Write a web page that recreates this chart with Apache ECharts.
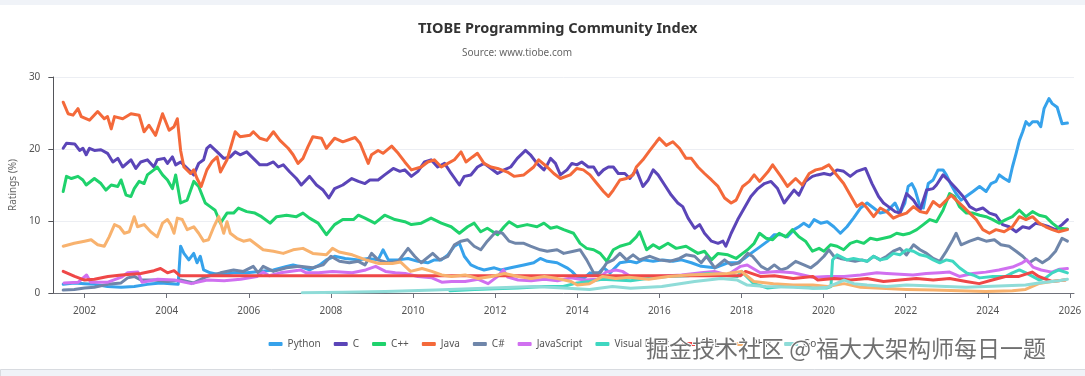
<!DOCTYPE html>
<html>
<head>
<meta charset="utf-8">
<script src="https://cdn.jsdelivr.net/npm/echarts@6/dist/echarts.min.js"></script>
<style>
  html, body { margin: 0; padding: 0; background: #fff; }
  #main { width: 1085px; height: 376px; }
</style>
</head>
<body>
<div id="main"></div>
<script>
// TIOBE ratings (%), points are [year, rating]
var names = ['Python', 'C', 'C++', 'Java', 'C#', 'JavaScript', 'Visual Basic', 'SQL', 'PHP', 'Go'];
var colors = ['#36a2eb', '#5b45b8', '#1fd26c', '#f4693a', '#6f86aa', '#d070f0', '#3fd7c1', '#ef4747', '#f8b26e', '#8fdcd8'];
var yearTicks = [2002, 2004, 2006, 2008, 2010, 2012, 2014, 2016, 2018, 2020, 2022, 2024, 2026];

var python = [[2001.48,1.2],[2001.75,1.4],[2002.0,1.3],[2002.24,1.2],[2002.56,0.9],[2002.89,0.8],[2003.21,0.9],[2003.53,1.2],[2003.85,1.4],[2004.1,1.3],[2004.28,1.2],[2004.34,6.5],[2004.42,5.5],[2004.54,4.6],[2004.66,5.5],[2004.74,4.2],[2004.82,5.1],[2004.9,3.2],[2005.06,2.8],[2005.31,2.5],[2005.63,2.8],[2005.95,2.8],[2006.27,3.0],[2006.6,3.2],[2006.92,3.7],[2007.08,3.9],[2007.24,3.7],[2007.48,3.2],[2007.73,3.9],[2007.89,4.6],[2008.09,5.1],
  [2008.35,4.8],[2008.67,4.6],[2008.91,4.8],[2009.15,4.6],[2009.27,6.0],[2009.4,4.6],[2009.64,4.6],[2009.88,4.8],[2010.12,4.4],[2010.36,4.2],[2010.52,4.6],[2010.69,4.6],[2010.85,5.3],[2011.01,6.5],[2011.13,6.9],[2011.25,5.1],[2011.41,3.9],[2011.57,3.5],[2011.73,3.2],[2011.98,3.5],[2012.14,3.2],[2012.38,3.5],[2012.7,3.9],[2012.94,4.2],[2013.1,4.8],[2013.27,4.4],[2013.51,4.2],[2013.75,3.5],[2013.87,3.0],[2013.99,2.3],[2014.15,2.0],[2014.31,2.8],[2014.48,2.5],[2014.64,3.5],[2014.8,2.8],[2015.04,4.2],[2015.28,4.4],[2015.44,4.2],[2015.6,4.6],[2015.85,4.4],[2016.09,4.6],[2016.33,4.4],
  [2016.54,4.6],[2016.78,4.2],[2017.02,3.7],[2017.35,3.5],[2017.67,4.2],[2017.91,4.2],[2018.07,4.8],[2018.23,5.5],[2018.4,6.2],[2018.64,7.2],[2018.8,8.1],[2018.96,8.1],[2019.12,7.8],[2019.28,8.8],[2019.4,9.2],[2019.52,9.7],[2019.65,9.2],[2019.77,10.2],[2019.93,9.7],[2020.09,9.9],[2020.25,9.2],[2020.41,8.3],[2020.57,9.2],[2020.73,10.4],[2020.9,11.8],[2021.06,12.5],[2021.22,11.8],[2021.38,11.1],[2021.54,11.3],[2021.74,12.5],[2021.86,11.1],[2021.98,12.5],[2022.06,14.8],[2022.15,15.2],[2022.23,14.3],[2022.35,12.0],[2022.43,11.8],[2022.55,15.2],[2022.67,15.7],[2022.79,17.1],[2022.91,17.1],[2022.99,16.4],[2023.11,15.0],[2023.23,13.8],[2023.35,12.9],[2023.47,13.4],[2023.64,14.1],[2023.8,14.8],[2023.96,14.1],[2024.08,15.2],[2024.2,15.5],[2024.28,16.4],[2024.4,15.9],[2024.52,15.5],[2024.6,17.5],[2024.69,19.4],[2024.77,21.2],[2024.85,22.4],[2024.93,23.8],[2025.01,23.3],[2025.09,23.8],[2025.21,23.8],[2025.29,23.1],[2025.37,25.6],[2025.49,27.0],[2025.57,26.3],[2025.69,25.8],[2025.81,23.5],[2025.94,23.6]];

var langC = [[2001.48,20.1],[2001.56,20.8],[2001.76,20.7],[2001.88,19.8],[2001.96,20.1],[2002.04,19.2],[2002.12,20.1],[2002.24,19.8],[2002.4,19.9],[2002.56,19.4],[2002.69,18.2],[2002.81,18.7],[2002.93,17.5],[2003.13,18.5],[2003.25,17.3],[2003.37,18.2],[2003.53,18.5],[2003.69,17.5],[2003.77,18.5],[2003.94,18.7],[2004.02,18.0],[2004.14,18.9],[2004.22,17.8],[2004.34,18.2],[2004.5,17.3],[2004.66,16.4],[2004.78,18.0],[2004.9,18.5],[2004.98,20.1],[2005.06,20.5],[2005.23,19.6],[2005.39,18.7],[2005.55,18.9],[2005.67,19.6],[2005.79,19.2],[2005.95,19.6],[2006.11,18.7],[2006.27,17.8],[2006.44,17.8],[2006.6,18.2],[2006.72,17.5],[2006.84,17.8],[2007.0,16.8],[2007.16,15.9],[2007.28,15.0],[2007.48,16.2],[2007.65,15.0],[2007.81,14.3],[2007.95,13.2],[2008.09,14.5],[2008.29,15.0],
  [2008.51,15.9],[2008.67,15.5],[2008.83,15.2],[2008.95,15.7],[2009.15,15.7],[2009.31,16.4],[2009.52,17.3],[2009.68,16.9],[2009.8,17.1],[2009.96,16.2],[2010.12,16.9],[2010.28,18.2],[2010.44,18.5],[2010.6,17.5],[2010.77,18.0],[2010.93,16.6],[2011.13,15.0],[2011.25,16.2],[2011.41,16.4],[2011.57,17.5],[2011.73,18.0],[2011.9,17.3],[2012.06,16.6],[2012.22,17.1],[2012.38,17.5],[2012.54,18.7],[2012.74,19.8],[2012.86,19.2],[2013.02,18.0],[2013.19,17.1],[2013.27,17.8],[2013.35,18.7],[2013.47,18.0],[2013.59,16.4],[2013.75,17.1],[2013.87,18.0],[2013.99,17.8],[2014.11,18.2],[2014.27,17.5],[2014.4,17.5],[2014.52,16.4],[2014.64,17.1],[2014.76,17.5],[2014.88,17.5],[2015.0,16.6],[2015.16,16.6],[2015.28,15.9],[2015.44,17.1],[2015.6,14.8],[2015.73,15.7],[2015.85,17.1],[2015.97,16.4],[2016.13,15.0],[2016.29,13.6],[2016.45,12.5],
  [2016.57,12.0],[2016.7,10.4],[2016.86,9.0],[2016.98,9.5],[2017.1,8.3],[2017.27,7.2],[2017.43,6.9],[2017.55,7.2],[2017.62,6.5],[2017.75,8.3],[2017.91,10.2],[2018.07,11.8],[2018.23,13.4],[2018.4,14.5],[2018.56,15.2],[2018.72,15.5],[2018.88,14.5],[2019.04,12.5],[2019.16,13.4],[2019.28,14.3],[2019.4,13.6],[2019.56,15.5],[2019.73,16.2],[2019.85,16.4],[2020.01,16.6],[2020.17,16.4],[2020.33,17.1],[2020.49,16.9],[2020.65,16.2],[2020.81,16.9],[2021.02,17.3],[2021.18,15.2],[2021.34,13.4],[2021.46,12.5],[2021.58,12.0],[2021.74,11.3],[2021.86,11.1],[2022.02,13.8],[2022.19,12.9],[2022.35,11.5],[2022.51,14.3],[2022.67,14.5],[2022.75,15.0],[2022.91,16.4],[2023.07,15.5],[2023.23,14.5],[2023.4,13.4],[2023.56,12.0],[2023.72,11.5],[2023.88,11.8],[2024.04,11.1],[2024.2,10.8],[2024.36,9.5],[2024.52,9.2],[2024.69,8.5],[2024.85,9.2],[2025.01,9.0],[2025.17,9.7],[2025.33,9.5],[2025.49,9.2],[2025.65,8.8],[2025.81,9.5],[2025.94,10.2]];

var cpp = [[2001.48,14.1],[2001.56,16.2],[2001.68,15.9],[2001.84,16.2],[2001.96,15.7],[2002.04,15.0],[2002.24,15.9],[2002.4,15.2],[2002.52,14.3],[2002.65,15.0],[2002.81,14.8],[2002.89,15.7],[2003.01,13.6],[2003.13,13.4],[2003.21,14.5],[2003.33,15.5],[2003.45,15.2],[2003.53,16.4],[2003.69,17.1],[2003.77,17.5],[2003.9,16.4],[2004.02,15.7],[2004.14,14.5],[2004.22,16.4],[2004.34,12.5],[2004.5,12.9],[2004.66,15.5],[2004.78,14.8],[2004.94,12.5],[2005.06,12.0],[2005.18,11.5],[2005.31,9.7],[2005.47,11.1],[2005.63,11.1],[2005.75,11.8],[2005.95,11.3],[2006.15,11.1],[2006.31,10.6],[2006.52,9.7],[2006.68,10.6],[2006.92,10.8],[2007.16,10.6],[2007.32,11.1],[2007.48,10.4],[2007.69,9.7],[2007.89,8.1],[2008.09,9.5],[2008.29,10.2],
  [2008.55,10.2],[2008.67,10.8],[2008.83,10.4],[2009.07,9.7],[2009.31,10.8],[2009.56,10.2],[2009.8,9.9],[2009.96,9.5],[2010.2,9.7],[2010.44,10.4],[2010.69,9.7],[2010.93,9.2],[2011.13,8.3],[2011.33,9.2],[2011.49,9.7],[2011.65,8.5],[2011.81,9.0],[2012.06,8.1],[2012.22,9.2],[2012.34,9.9],[2012.54,9.2],[2012.78,9.5],[2013.02,9.2],[2013.19,9.7],[2013.35,9.0],[2013.51,9.2],[2013.67,8.8],[2013.91,8.3],[2014.07,6.9],[2014.23,6.2],[2014.4,6.0],[2014.56,5.5],[2014.72,4.4],[2014.88,6.0],[2015.04,6.5],[2015.28,6.9],[2015.44,7.8],[2015.52,8.5],[2015.69,6.0],[2015.85,6.7],[2016.0,6.2],[2016.21,6.9],[2016.41,6.2],
  [2016.65,6.5],[2016.94,5.5],[2017.1,5.8],[2017.27,4.6],[2017.43,5.5],[2017.67,5.3],[2017.87,4.8],[2018.03,5.5],[2018.15,6.0],[2018.31,6.9],[2018.44,8.3],[2018.6,7.6],[2018.76,7.4],[2018.92,8.3],[2019.08,7.8],[2019.24,8.8],[2019.4,7.8],[2019.56,7.2],[2019.73,5.8],[2019.89,6.2],[2020.01,5.8],[2020.17,6.7],[2020.33,6.5],[2020.49,6.0],[2020.65,6.9],[2020.81,7.2],[2020.98,6.9],[2021.14,7.6],[2021.3,7.4],[2021.46,7.6],[2021.62,7.8],[2021.78,8.3],[2021.94,8.1],[2022.1,8.3],[2022.27,8.8],[2022.43,9.5],[2022.59,10.2],[2022.75,9.9],[2022.91,11.5],[2023.07,13.8],[2023.19,13.4],[2023.31,12.0],[2023.48,11.1],[2023.64,11.1],[2023.8,10.8],[2023.96,10.6],[2024.12,10.2],[2024.28,9.7],[2024.44,10.2],[2024.6,10.6],[2024.77,11.5],[2024.93,10.6],[2025.09,11.3],[2025.25,10.8],[2025.41,10.6],[2025.57,9.7],[2025.73,9.0],[2025.94,8.9]];

var java = [[2001.48,26.5],[2001.6,24.9],[2001.72,24.7],[2001.84,25.6],[2001.92,24.5],[2002.12,24.0],[2002.32,25.2],[2002.48,24.2],[2002.56,24.5],[2002.65,22.8],[2002.73,24.5],[2002.93,24.2],[2003.13,24.9],[2003.33,24.7],[2003.45,22.4],[2003.57,23.3],[2003.73,21.9],[2003.9,24.9],[2004.06,22.6],[2004.18,23.1],[2004.26,24.2],[2004.34,19.8],[2004.42,17.5],[2004.58,16.6],[2004.66,17.1],[2004.74,15.9],[2004.84,14.8],[2004.98,17.1],[2005.1,18.2],[2005.23,18.9],[2005.31,16.8],[2005.47,18.5],[2005.67,22.4],[2005.79,21.7],[2006.03,21.9],[2006.11,22.4],[2006.27,21.5],[2006.44,21.2],[2006.6,22.4],[2006.76,21.2],[2006.96,20.1],[2007.08,19.2],[2007.2,18.0],[2007.32,18.7],[2007.44,20.3],[2007.56,21.7],[2007.77,21.5],[2007.89,20.1],[2008.09,21.5],[2008.29,21.0],
  [2008.59,21.6],[2008.71,20.8],[2008.91,18.0],[2008.99,19.2],[2009.15,19.8],[2009.27,19.4],[2009.48,20.4],[2009.64,19.4],[2009.8,18.2],[2009.96,17.1],[2010.2,17.5],[2010.36,18.2],[2010.52,18.5],[2010.69,17.5],[2010.85,18.0],[2011.01,18.5],[2011.17,19.6],[2011.29,18.2],[2011.45,18.9],[2011.57,19.4],[2011.73,18.0],[2011.9,17.5],[2012.06,17.3],[2012.3,16.8],[2012.46,16.2],[2012.7,16.4],[2012.94,17.5],[2013.06,18.5],[2013.27,17.5],[2013.43,16.6],[2013.59,15.9],[2013.83,16.4],[2013.99,17.3],[2014.15,17.1],[2014.31,16.4],[2014.48,15.2],[2014.64,14.1],[2014.76,13.4],[2014.88,14.3],[2015.04,15.7],[2015.2,15.9],[2015.36,16.4],[2015.44,17.5],[2015.6,18.5],[2015.77,19.8],[2015.93,21.0],[2016.0,21.5],[2016.17,20.5],[2016.33,21.0],[2016.49,20.1],
  [2016.65,18.7],[2016.78,18.7],[2016.94,17.5],[2017.1,16.6],[2017.27,15.7],[2017.43,14.8],[2017.59,13.2],[2017.75,12.5],[2017.87,12.9],[2018.03,14.8],[2018.19,15.5],[2018.31,16.4],[2018.44,15.5],[2018.64,16.8],[2018.76,17.8],[2018.96,16.2],[2019.12,14.8],[2019.32,15.9],[2019.48,15.0],[2019.65,16.6],[2019.81,17.1],[2019.97,17.3],[2020.13,17.8],[2020.29,16.6],[2020.49,15.2],[2020.65,13.6],[2020.81,12.0],[2020.94,12.5],[2021.06,11.8],[2021.22,10.6],[2021.38,11.8],[2021.54,11.3],[2021.7,10.4],[2021.86,10.8],[2022.02,11.1],[2022.19,12.0],[2022.35,11.3],[2022.51,11.1],[2022.67,12.7],[2022.83,12.0],[2022.99,12.9],[2023.11,13.6],[2023.23,12.9],[2023.4,12.0],[2023.56,11.1],[2023.72,10.2],[2023.88,8.8],[2024.04,8.3],[2024.2,8.8],[2024.4,8.5],[2024.6,9.2],[2024.77,10.6],[2024.93,10.2],[2025.09,10.6],[2025.25,9.7],[2025.41,9.2],[2025.57,8.8],[2025.73,8.5],[2025.94,8.8]];

var csharp = [[2001.48,0.4],[2001.75,0.5],[2002.0,0.7],[2002.24,0.8],[2002.56,1.2],[2002.89,1.4],[2003.05,2.1],[2003.21,2.3],[2003.37,1.8],[2003.69,1.8],[2004.02,1.6],[2004.34,1.8],[2004.66,1.4],[2004.98,2.3],[2005.31,2.8],[2005.63,3.2],[2005.87,3.0],[2006.11,3.7],[2006.23,2.8],[2006.35,3.7],[2006.6,3.0],[2006.92,3.5],[2007.24,3.7],[2007.56,3.5],[2007.81,3.9],[2008.0,5.1],[2008.21,4.4],
  [2008.45,4.2],[2008.67,4.4],[2008.83,3.9],[2008.99,5.5],[2009.15,4.6],[2009.4,4.2],[2009.64,4.4],[2009.88,6.2],[2010.04,5.1],[2010.2,4.2],[2010.48,5.5],[2010.65,4.6],[2010.85,5.1],[2011.01,6.7],[2011.17,7.2],[2011.33,7.4],[2011.49,6.5],[2011.65,6.0],[2011.81,7.2],[2012.02,8.5],[2012.18,8.3],[2012.34,7.2],[2012.5,6.9],[2012.7,6.9],[2012.86,6.5],[2013.1,6.0],[2013.27,5.8],[2013.51,6.0],[2013.67,5.5],[2013.91,5.8],[2014.07,6.0],[2014.23,4.6],[2014.4,2.8],[2014.56,2.8],[2014.72,4.2],[2014.88,4.6],[2015.04,5.5],[2015.2,4.6],[2015.36,5.3],[2015.52,4.6],[2015.77,5.1],[2016.0,4.6],[2016.25,4.4],[2016.49,4.8],
  [2016.65,5.3],[2016.86,5.1],[2017.02,4.2],[2017.15,5.1],[2017.35,3.5],[2017.59,4.6],[2017.75,3.9],[2017.95,4.2],[2018.15,5.5],[2018.27,5.1],[2018.48,3.7],[2018.64,3.2],[2018.8,3.9],[2018.96,3.2],[2019.12,3.5],[2019.32,4.4],[2019.52,3.9],[2019.69,3.5],[2019.85,4.2],[2020.01,5.1],[2020.13,6.0],[2020.25,5.1],[2020.41,4.8],[2020.57,4.6],[2020.77,4.4],[2020.94,4.6],[2021.06,4.4],[2021.22,5.1],[2021.38,4.6],[2021.54,5.1],[2021.7,5.8],[2021.86,6.2],[2022.02,5.3],[2022.19,6.7],[2022.35,6.0],[2022.51,5.5],[2022.67,4.8],[2022.83,4.4],[2022.99,5.8],[2023.15,7.4],[2023.23,8.3],[2023.35,6.7],[2023.56,7.2],[2023.76,7.6],[2023.96,7.2],[2024.16,7.4],[2024.32,6.7],[2024.52,6.5],[2024.69,5.8],[2024.85,5.1],[2025.01,4.2],[2025.17,4.8],[2025.33,4.2],[2025.49,4.8],[2025.65,5.8],[2025.81,7.6],[2025.94,7.2]];

var javascript = [[2001.5,1.4],[2001.85,1.5],[2002.05,2.5],[2002.15,1.5],[2002.57,1.5],[2002.9,2.2],[2003.05,2.8],[2003.3,2.9],[2003.4,1.5],[2003.78,1.9],[2004.19,1.8],[2004.6,1.3],[2004.99,1.8],[2005.4,1.7],[2005.8,1.9],[2006.2,2.3],[2006.35,2.9],[2006.5,2.4],[2006.77,2.8],[2007.26,3.2],[2007.4,2.8],[2007.7,2.8],[2008.04,3.0],[2008.52,2.8],[2008.85,3.2],[2009.09,3.7],[2009.33,3.0],[2009.57,2.8],[2009.81,2.7],[2010.12,2.3],[2010.46,2.1],[2010.7,1.5],[2010.94,1.6],[2011.27,1.6],[2011.59,1.9],[2011.83,1.3],[2012.04,2.2],[2012.2,3.2],[2012.31,2.2],[2012.56,1.8],[2012.88,1.7],[2013.2,1.9],[2013.52,1.7],[2013.85,2.1],[2014.17,1.8],[2014.5,1.9],[2014.7,2.9],[2014.94,3.2],[2015.1,3.0],[2015.3,2.3],[2015.9,2.3],[2016.54,2.5],[2017.02,2.8],[2017.34,3.0],[2017.66,2.5],[2017.98,3.7],[2018.14,3.9],[2018.46,2.8],[2018.86,3.0],[2019.26,2.8],[2019.74,2.2],[2020.1,2.3],[2020.5,2.3],[2020.9,2.5],[2021.3,2.8],[2021.54,2.7],[2021.86,2.6],[2022.18,2.5],[2022.5,2.7],[2022.83,2.8],[2023.07,2.9],[2023.31,2.3],[2023.63,2.7],[2023.95,2.9],[2024.27,3.2],[2024.6,3.6],[2024.84,4.2],[2024.95,4.6],[2025.1,3.6],[2025.3,3.2],[2025.56,2.9],[2025.75,3.3],[2025.94,3.4]];

var visualBasic = [[2010.9,0.3],[2011.5,0.5],[2012.0,0.6],[2012.56,0.7],[2013.2,0.9],[2013.66,0.9],[2014.0,1.4],[2014.3,1.6],[2014.6,1.9],[2015.3,1.7],[2015.7,2.0],[2016.2,2.3],[2016.7,2.4],[2017.2,2.7],[2017.5,2.5],[2017.9,2.3],[2018.0,3.0],[2018.3,1.3],[2018.64,0.7],[2018.96,0.9],[2019.3,1.0],[2019.74,0.7],[2020.09,0.7],[2020.18,0.9],[2020.22,4.6],[2020.33,5.3],[2020.57,4.6],[2020.73,4.8],[2020.9,4.6],[2021.06,4.4],[2021.22,5.1],[2021.38,4.6],[2021.54,4.8],[2021.7,5.5],[2021.86,5.3],[2022.02,6.0],[2022.19,5.8],[2022.35,5.3],[2022.51,5.1],[2022.67,4.6],[2022.83,4.2],[2022.99,4.6],[2023.15,4.4],[2023.31,3.5],[2023.48,2.8],[2023.64,2.5],[2023.8,2.1],[2024.12,2.3],[2024.44,2.3],[2024.6,2.8],[2024.77,3.2],[2024.93,2.8],[2025.09,2.3],[2025.25,1.8],[2025.41,2.1],[2025.57,2.8],[2025.73,3.2],[2025.94,2.8]];

var sql = [[2001.48,3.0],[2001.76,2.3],[2002.0,1.8],[2002.24,1.9],[2002.57,2.3],[2002.9,2.5],[2003.37,2.7],[2003.69,3.1],[2003.85,3.4],[2004.02,2.8],[2004.18,3.1],[2004.32,2.4],[2017.98,2.4],[2018.1,3.0],[2018.46,2.3],[2018.8,2.4],[2019.26,2.0],[2019.74,2.3],[2019.86,1.8],[2020.26,2.0],[2020.66,1.8],[2021.06,2.0],[2021.46,1.6],[2021.86,1.8],[2022.26,2.0],[2022.67,1.8],[2023.07,2.0],[2023.47,1.6],[2023.79,1.3],[2024.11,1.8],[2024.43,2.3],[2024.76,2.3],[2025.08,2.9],[2025.24,2.3],[2025.56,1.6],[2025.88,1.8]];

var php = [[2001.48,6.5],[2001.75,6.9],[2002.0,7.2],[2002.16,7.4],[2002.32,6.7],[2002.48,6.5],[2002.6,7.8],[2002.73,9.5],[2002.85,9.2],[2002.97,8.3],[2003.09,8.5],[2003.21,10.6],[2003.29,9.2],[2003.45,9.5],[2003.61,8.5],[2003.77,7.8],[2003.9,9.7],[2004.02,10.2],[2004.1,9.5],[2004.18,8.3],[2004.26,10.4],[2004.38,10.2],[2004.5,8.8],[2004.66,9.2],[2004.78,8.3],[2004.9,7.2],[2005.02,7.4],[2005.15,9.2],[2005.27,10.6],[2005.39,8.3],[2005.47,9.9],[2005.55,8.3],[2005.71,7.6],[2005.87,7.2],[2006.03,7.4],[2006.19,6.7],[2006.35,6.0],[2006.6,5.8],[2006.84,5.5],[2007.08,6.0],[2007.32,6.2],[2007.56,5.5],[2007.89,5.3],[2008.04,6.2],[2008.2,5.7],[2008.52,5.3],[2008.85,4.6],[2009.17,4.1],[2009.5,4.1],[2009.7,4.3],[2009.94,3.0],[2010.22,3.4],[2010.46,3.0],[2010.7,2.5],[2010.94,2.3],[2011.27,2.5],[2011.59,2.0],[2011.91,2.3],[2012.23,2.7],[2012.56,2.3],[2012.88,2.0],[2013.2,2.3],[2013.52,2.0],[2013.85,1.6],[2014.0,1.1],[2014.3,1.3],[2014.62,2.3],[2014.94,2.0],[2015.26,2.2],[2015.74,1.9],[2016.22,2.3],[2016.7,2.5],[2017.18,2.6],[2017.66,2.7],[2018.0,3.0],[2018.3,1.6],[2018.78,1.3],[2019.26,1.1],[2019.74,1.1],[2020.1,0.9],[2020.5,1.3],[2020.9,0.8],[2021.4,0.65],[2022.02,0.5],[2022.67,0.4],[2023.31,0.3],[2023.95,0.2],[2024.6,0.3],[2024.92,0.5],[2025.24,1.3],[2025.56,1.6],[2025.88,1.8]];

var go = [[2007.3,0.05],[2008.3,0.1],[2009.33,0.2],[2010.54,0.4],[2011.75,0.65],[2012.96,0.9],[2013.66,0.7],[2014.3,0.5],[2014.86,0.9],[2015.3,0.65],[2016.06,0.9],[2016.86,1.6],[2017.5,2.0],[2017.9,1.8],[2018.14,1.1],[2018.6,0.9],[2019.26,0.8],[2019.74,0.65],[2020.1,0.8],[2020.5,1.8],[2020.74,1.3],[2021.06,1.1],[2021.54,0.9],[2022.02,1.1],[2022.5,1.0],[2022.99,0.9],[2023.47,0.8],[2023.95,0.9],[2024.43,1.0],[2024.92,1.1],[2025.24,1.4],[2025.72,1.7],[2025.94,1.9]];

var allData = [python, langC, cpp, java, csharp, javascript, visualBasic, sql, php, go];

var myChart = echarts.init(document.getElementById('main'));

var seriesList = [];
for (var i = 0; i < names.length; i++) {
    seriesList.push({
        name: names[i],
        type: 'line',
        data: allData[i],
        showSymbol: false,
        lineStyle: { width: 3, join: 'round', cap: 'round' },
        itemStyle: { color: colors[i] }
    });
}

var option = {
    color: colors,
    title: [
        {
            text: 'TIOBE Programming Community Index',
            left: 413,
            top: 16,
            textStyle: { fontSize: 14.5, fontWeight: 'bold', color: '#333', fontFamily: 'Noto Sans' }
        },
        {
            text: 'Source: www.tiobe.com',
            left: 457,
            top: 43,
            textStyle: { fontSize: 10, fontWeight: 'normal', color: '#666', fontFamily: 'Noto Sans' }
        }
    ],
    grid: { left: 44, right: 11, top: 77, bottom: 83 },
    legend: {
        data: names,
        left: 'center',
        top: 334,
        icon: 'roundRect',
        itemWidth: 14,
        itemHeight: 4,
        itemGap: 13,
        textStyle: { fontSize: 10, color: '#555', fontFamily: 'Noto Sans' }
    },
    xAxis: {
        type: 'value',
        min: 2001.24,
        max: 2026.1,
        axisLine: { lineStyle: { color: '#6E7079' } },
        axisTick: { customValues: yearTicks, length: 5 },
        axisLabel: {
            customValues: yearTicks,
            fontSize: 10,
            color: '#555',
            margin: 13,
            fontFamily: 'Noto Sans',
            formatter: function (v) { return String(v); }
        },
        splitLine: { show: false }
    },
    yAxis: {
        type: 'value',
        min: 0,
        max: 30,
        interval: 10,
        name: 'Ratings (%)',
        nameLocation: 'middle',
        nameGap: 31,
        nameTextStyle: { fontSize: 10, color: '#666', fontFamily: 'Noto Sans' },
        axisLabel: { fontSize: 10, color: '#555', margin: 13, fontFamily: 'Noto Sans' },
        splitLine: { lineStyle: { color: '#eceef3' } }
    },
    graphic: [
        { type: 'rect', left: 0, top: 0, shape: { width: 1085, height: 5 }, style: { fill: '#f0f3f8' }, silent: true },
        { type: 'rect', left: 0, top: 369, shape: { width: 1085, height: 7 }, style: { fill: '#f0f3f8', stroke: '#d8dbe0', lineWidth: 1 }, silent: true },
        {
            type: 'text',
            left: 645,
            top: 336,
            z: 100,
            silent: true,
            style: {
                text: '掘金技术社区 @ 福大大架构师每日一题',
                font: '23px "Noto Sans CJK SC"',
                fill: '#707070',
                stroke: '#ffffff',
                lineWidth: 2,
                shadowColor: 'rgba(0,0,0,0.35)',
                shadowBlur: 2,
                shadowOffsetX: 1,
                shadowOffsetY: 1
            }
        }
    ],
    series: seriesList
};

myChart.setOption(option);
</script>
</body>
</html>
